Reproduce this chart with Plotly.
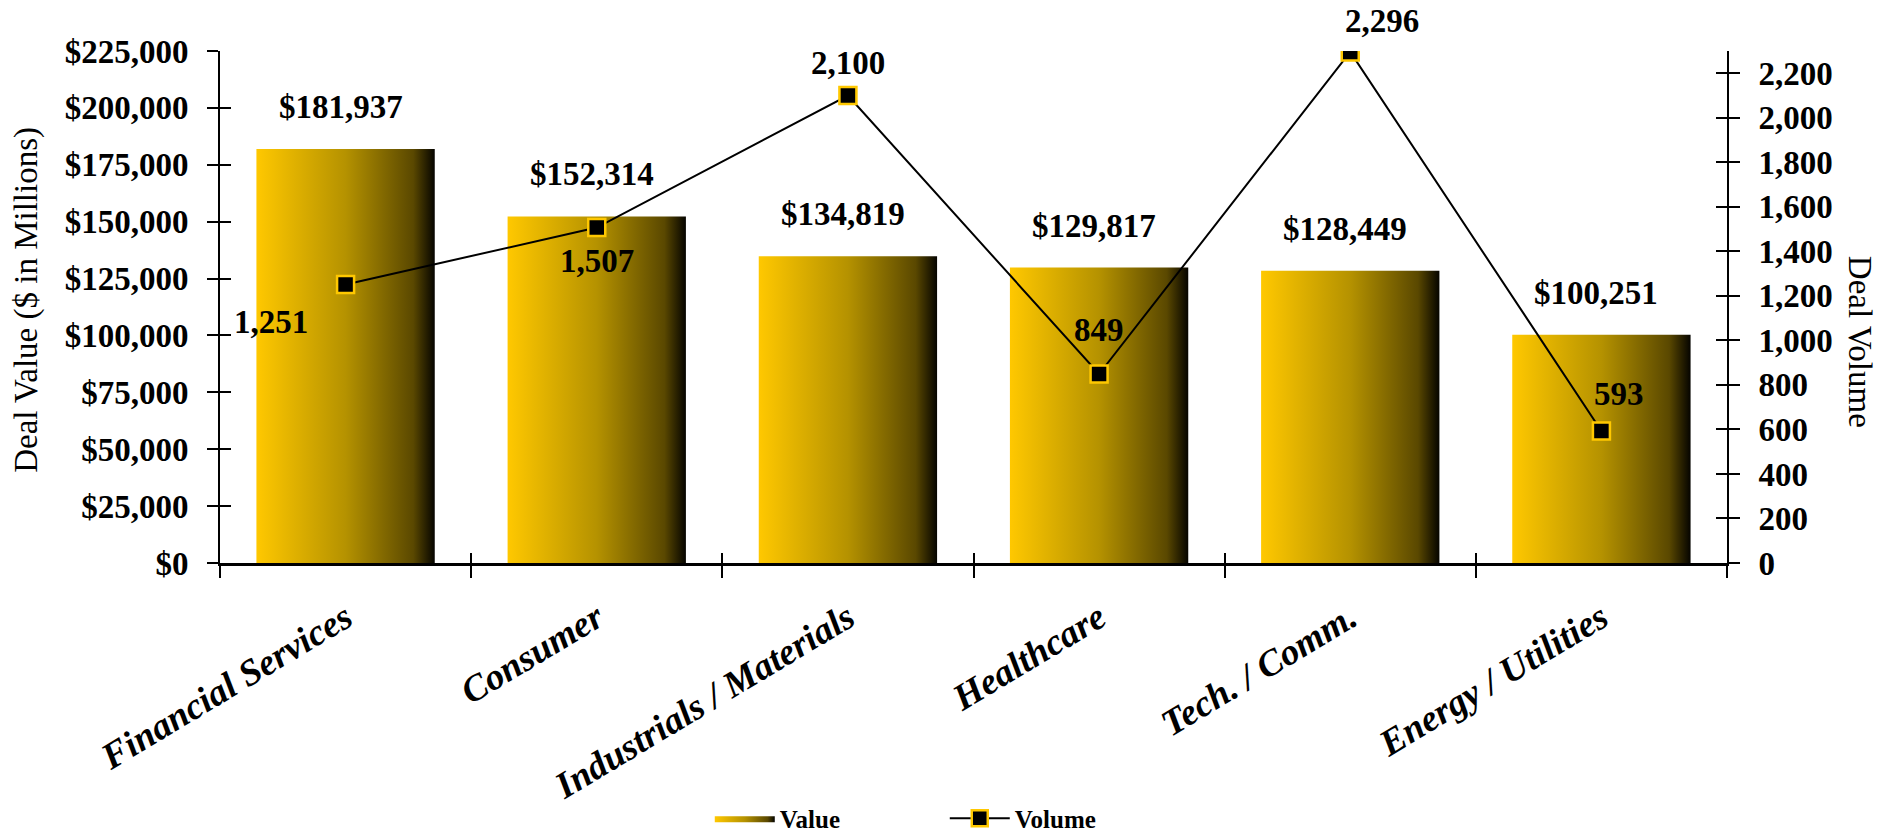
import plotly.graph_objects as go

categories = ["Financial Services", "Consumer", "Industrials / Materials",
              "Healthcare", "Tech. / Comm.", "Energy / Utilities"]
deal_value = [181937, 152314, 134819, 129817, 128449, 100251]
deal_volume = [1251, 1507, 2100, 849, 2296, 593]
value_ticks = [0, 25000, 50000, 75000, 100000, 125000, 150000, 175000, 200000, 225000]
volume_ticks = [0, 200, 400, 600, 800, 1000, 1200, 1400, 1600, 1800, 2000, 2200]
value_tick_text = [f"${v:,}" for v in value_ticks]
volume_tick_text = [f"{v:,}" for v in volume_ticks]

# label offsets (style) for volume labels: (xshift, yshift)
vol_label_shift = [(-75, -37), (0, -33), (0, 33), (0, 44), (32, 31), (18, 37)]

FONT = "Liberation Serif"
GOLD = "#FFC800"
grad = [[0, "#FFC800"], [0.5, "#B59200"], [0.88, "#5A4800"], [1, "#050400"]]
hw = 0.355
n = len(categories)
xs = list(range(n))
bounds = [i - 0.5 for i in range(n + 1)]

fig = go.Figure()

for i, v in enumerate(deal_value):
    fig.add_trace(go.Scatter(
        x=[i - hw, i + hw, i + hw, i - hw, i - hw],
        y=[0, 0, v, v, 0],
        fill="toself", mode="lines", line=dict(width=0),
        fillgradient=dict(type="horizontal", colorscale=grad),
        name="Value", legendgroup="value", showlegend=(i == 0),
        hoverinfo="skip", xaxis="x", yaxis="y"))

fig.add_trace(go.Scatter(
    x=xs, y=deal_volume, mode="lines+markers", name="Volume",
    line=dict(color="black", width=2),
    marker=dict(symbol="square", size=17, color="black",
                line=dict(color=GOLD, width=2.5)),
    xaxis="x", yaxis="y2"))

# dummy traces for overlay tick axes
for xa, ya in [("x3", "y"), ("x", "y3"), ("x", "y4")]:
    fig.add_trace(go.Scatter(x=[0], y=[0], mode="markers", marker=dict(opacity=0),
                             showlegend=False, hoverinfo="skip", xaxis=xa, yaxis=ya))

annotations = []
for i, v in enumerate(deal_value):
    annotations.append(dict(x=i, y=v, xref="x", yref="y", text=f"${v:,}",
                            showarrow=False, yanchor="bottom", yshift=22, xshift=-5,
                            font=dict(family=FONT, size=33, color="black", weight="bold")))
for i, v in enumerate(deal_volume):
    dx, dy = vol_label_shift[i]
    annotations.append(dict(x=i, y=v, xref="x", yref="y2", text=f"{v:,}",
                            showarrow=False, xshift=dx, yshift=dy,
                            font=dict(family=FONT, size=33, color="black", weight="bold")))
annotations.append(dict(x=0, y=0.514, xref="paper", yref="paper", xshift=-193,
                        xanchor="center", yanchor="middle",
                        text="Deal Value ($ in Millions)", textangle=-90, showarrow=False,
                        font=dict(family=FONT, size=33, color="black")))
annotations.append(dict(x=1, y=0.432, xref="paper", yref="paper", xshift=133,
                        xanchor="center", yanchor="middle",
                        text="Deal Volume", textangle=90, showarrow=False,
                        font=dict(family=FONT, size=33, color="black")))

xr = [-0.5, n - 0.5]
fig.update_layout(
    width=1885, height=834,
    margin=dict(l=220, r=158, t=51, b=271, autoexpand=False),
    plot_bgcolor="white", paper_bgcolor="white",
    font=dict(family=FONT, color="black"),
    annotations=annotations,
    xaxis=dict(range=xr, tickvals=xs, ticktext=categories, ticks="",
               tickangle=-31, ticklabelstandoff=16,
               tickfont=dict(family=FONT, size=37, weight="bold", style="italic"),
               minor=dict(tickvals=bounds, ticks="outside", ticklen=12,
                          tickwidth=2, tickcolor="black"),
               showline=True, linecolor="black", linewidth=2.5,
               showgrid=False, zeroline=False, fixedrange=True),
    xaxis3=dict(range=xr, overlaying="x", tickvals=bounds, ticks="inside",
                ticklen=10, tickwidth=2, tickcolor="black", showticklabels=False,
                showline=False, showgrid=False, zeroline=False),
    yaxis=dict(range=[0, 225000], tickvals=value_ticks, ticktext=value_tick_text,
               ticks="outside", ticklen=11, tickwidth=2,
               tickcolor="black", ticklabelstandoff=12,
               tickfont=dict(family=FONT, size=33, weight="bold"),
               showline=True, linecolor="black", linewidth=2,
               showgrid=False, zeroline=False),
    yaxis3=dict(range=[0, 225000], overlaying="y", side="left", anchor="x",
                tickvals=value_ticks, ticks="inside", ticklen=11, tickwidth=2,
                tickcolor="black", showticklabels=False, showline=False,
                showgrid=False, zeroline=False),
    yaxis2=dict(range=[0, 2300], overlaying="y", side="right", anchor="x",
                tickvals=volume_ticks, ticktext=volume_tick_text, ticks="outside",
                ticklen=11, tickwidth=2, tickcolor="black", ticklabelstandoff=12,
                tickfont=dict(family=FONT, size=33, weight="bold"),
                showline=True, linecolor="black", linewidth=2,
                showgrid=False, zeroline=False),
    yaxis4=dict(range=[0, 2300], overlaying="y", side="right", anchor="x",
                tickvals=volume_ticks, ticks="inside", ticklen=11, tickwidth=2,
                tickcolor="black", showticklabels=False, showline=False,
                showgrid=False, zeroline=False),
    legend=dict(orientation="h", x=0.325, y=-0.499, xanchor="left", yanchor="middle",
                font=dict(family=FONT, size=25, weight="bold"),
                entrywidth=160, itemwidth=60, bgcolor="rgba(0,0,0,0)"),
)

fig.write_html("out.html")
